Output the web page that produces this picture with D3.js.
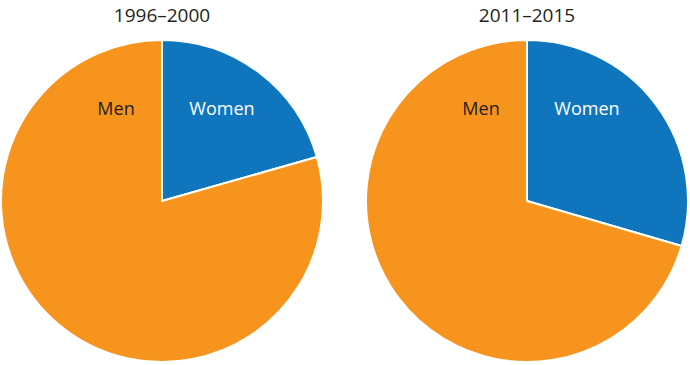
<!DOCTYPE html>
<html><head><meta charset="utf-8">
<script src="https://cdn.jsdelivr.net/npm/d3@7"></script>
<style>body{margin:0;background:#fff;} svg{display:block;}</style>
</head><body>
<svg id="c" width="690" height="365"></svg>
<script>
const periods = ["1996–2000", "2011–2015"];
const categories = ["Women", "Men"];
const women = [20.6, 29.5];
const men = [79.4, 70.5];

const svg = d3.select("#c");
const colors = d3.scaleOrdinal().domain(categories).range(["#0F75BC", "#F7941D"]);
const centers = [162, 527];
const cy = 201, r = 161;
const pie = d3.pie().sort(null).value(d => d.v);
const arc = d3.arc().innerRadius(0).outerRadius(r);
const font = "Open Sans, Noto Sans, sans-serif";

periods.forEach((p, i) => {
  const data = [{k: "Women", v: women[i]}, {k: "Men", v: men[i]}];
  const g = svg.append("g").attr("transform", `translate(${centers[i]},${cy})`);
  g.selectAll("path").data(pie(data)).join("path")
    .attr("d", arc)
    .attr("fill", d => colors(d.data.k))
    .attr("stroke", "#fff").attr("stroke-width", 2).attr("stroke-linejoin", "round");
  g.append("text").attr("x", 0).attr("y", -cy + 22)
    .attr("text-anchor", "middle")
    .attr("font-family", font).attr("font-size", 19)
    .attr("fill", "#231f20").text(p);
  g.append("text").attr("x", 60).attr("y", -86).attr("text-anchor", "middle")
    .attr("font-family", font).attr("font-size", 18)
    .attr("fill", "#fff").text("Women");
  g.append("text").attr("x", -46).attr("y", -86).attr("text-anchor", "middle")
    .attr("font-family", font).attr("font-size", 18)
    .attr("fill", "#231f20").text("Men");
});
</script>
</body></html>
